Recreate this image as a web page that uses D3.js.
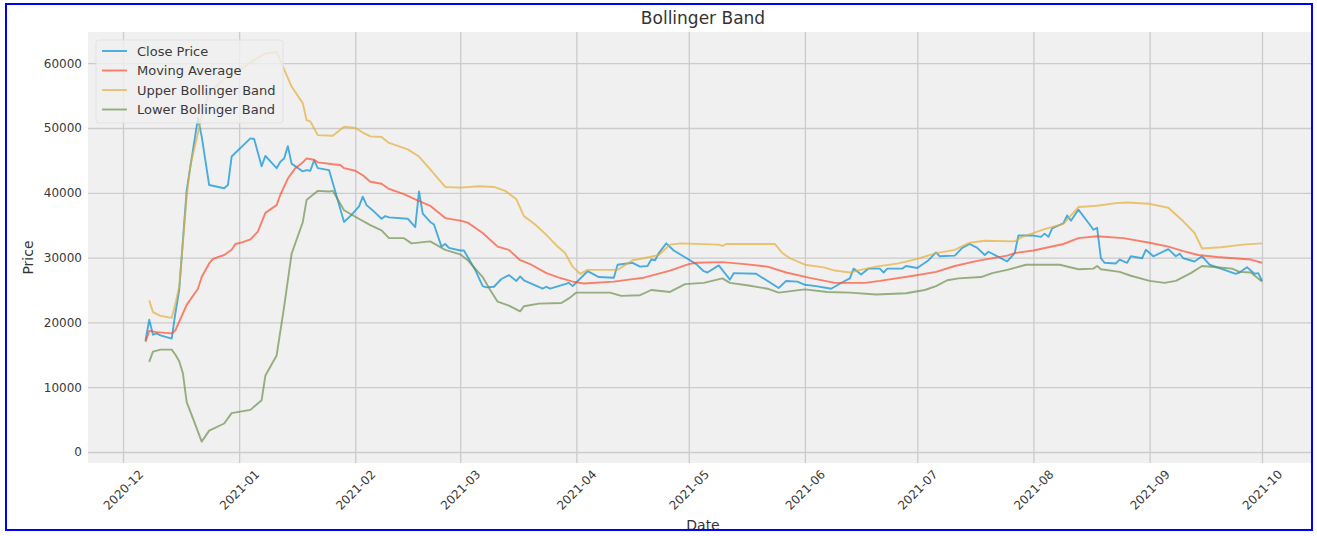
<!DOCTYPE html>
<html>
<head>
<meta charset="utf-8">
<script src="https://cdn.jsdelivr.net/npm/d3@7"></script>
<style>
  html, body { margin: 0; padding: 0; background: #ffffff; }
  svg { display: block; font-family: "DejaVu Sans", sans-serif; }
</style>
</head>
<body>
<svg id="chart" width="1317" height="536"></svg>
<script>
// ---------------- DATA ----------------
const chartTitle = "Bollinger Band";
const xLabel = "Date";
const yLabel = "Price";
const seriesNames = ["Close Price", "Moving Average", "Upper Bollinger Band", "Lower Bollinger Band"];
const seriesColors = ["#008fd5", "#fc4f30", "#e5ae38", "#6d904f"];
const xTickLabels = ["2020-12","2021-01","2021-02","2021-03","2021-04","2021-05","2021-06","2021-07","2021-08","2021-09","2021-10"];
const yTickValues = [0, 10000, 20000, 30000, 40000, 50000, 60000];

const closePrice = [
["2020-12-07",17200],["2020-12-08",20400],["2020-12-09",18100],["2020-12-10",18300],["2020-12-11",18000],
["2020-12-14",17500],["2020-12-15",21500],["2020-12-16",25000],["2020-12-18",40400],["2020-12-21",51500],
["2020-12-22",48700],["2020-12-24",41200],["2020-12-28",40700],["2020-12-29",41200],["2020-12-30",45600],
["2021-01-04",48400],["2021-01-05",48300],["2021-01-07",44100],["2021-01-08",45700],["2021-01-11",43800],
["2021-01-12",44800],["2021-01-13",45300],["2021-01-14",47200],["2021-01-15",44500],["2021-01-18",43300],
["2021-01-19",43500],["2021-01-20",43400],["2021-01-21",45000],["2021-01-22",43800],["2021-01-25",43500],
["2021-01-26",41500],["2021-01-29",35500],["2021-01-31",36600],["2021-02-02",37900],["2021-02-03",39400],
["2021-02-04",38100],["2021-02-06",37100],["2021-02-08",36000],["2021-02-09",36400],["2021-02-10",36200],
["2021-02-15",36000],["2021-02-17",34700],["2021-02-18",40200],["2021-02-19",36800],["2021-02-21",35500],
["2021-02-22",35100],["2021-02-24",31700],["2021-02-25",32100],["2021-02-26",31500],["2021-03-01",31100],
["2021-03-02",31100],["2021-03-05",28100],["2021-03-07",25600],["2021-03-08",25400],["2021-03-10",25500],
["2021-03-12",26700],["2021-03-14",27300],["2021-03-16",26400],["2021-03-17",27100],["2021-03-18",26500],
["2021-03-23",25200],["2021-03-24",25500],["2021-03-25",25200],["2021-03-29",25900],["2021-03-30",26100],
["2021-03-31",25600],["2021-04-04",27900],["2021-04-07",27000],["2021-04-11",26900],["2021-04-12",28900],
["2021-04-16",29200],["2021-04-18",28600],["2021-04-20",28700],["2021-04-21",29700],["2021-04-22",29600],
["2021-04-23",30700],["2021-04-25",32200],["2021-04-27",31100],["2021-04-29",30400],["2021-05-01",29700],
["2021-05-03",29000],["2021-05-05",27900],["2021-05-06",27700],["2021-05-09",28800],["2021-05-12",26600],
["2021-05-13",27600],["2021-05-19",27500],["2021-05-25",25300],["2021-05-27",26400],["2021-05-30",26300],
["2021-06-01",25800],["2021-06-04",25600],["2021-06-08",25200],["2021-06-11",26200],["2021-06-13",26800],
["2021-06-14",28300],["2021-06-16",27400],["2021-06-18",28300],["2021-06-21",28300],["2021-06-22",27700],
["2021-06-23",28300],["2021-06-27",28300],["2021-06-28",28700],["2021-07-01",28400],["2021-07-04",29600],
["2021-07-06",30800],["2021-07-07",30200],["2021-07-11",30300],["2021-07-13",31500],["2021-07-15",32100],
["2021-07-17",31500],["2021-07-19",30400],["2021-07-20",30900],["2021-07-22",30300],["2021-07-25",29400],
["2021-07-27",30700],["2021-07-28",33400],["2021-08-01",33400],["2021-08-03",33200],["2021-08-04",33700],
["2021-08-05",33200],["2021-08-06",34500],["2021-08-09",35300],["2021-08-10",36500],["2021-08-11",35700],
["2021-08-13",37400],["2021-08-16",35100],["2021-08-17",34300],["2021-08-18",34600],["2021-08-19",29900],
["2021-08-20",29200],["2021-08-23",29100],["2021-08-24",29700],["2021-08-26",29200],["2021-08-27",30200],
["2021-08-30",29900],["2021-08-31",31200],["2021-09-02",30200],["2021-09-06",31300],["2021-09-08",30200],
["2021-09-09",30600],["2021-09-10",29900],["2021-09-13",29400],["2021-09-15",30200],["2021-09-17",28900],
["2021-09-20",28300],["2021-09-24",27500],["2021-09-25",27700],["2021-09-27",28500],["2021-09-29",27500],
["2021-09-30",27600],["2021-10-01",26400]
];

const movingAverage = [
["2020-12-07",17000],["2020-12-08",18700],["2020-12-10",18500],["2020-12-14",18300],["2020-12-15",18800],
["2020-12-16",20100],["2020-12-18",22700],["2020-12-21",25200],["2020-12-22",27000],["2020-12-24",29100],
["2020-12-25",29800],["2020-12-28",30400],["2020-12-30",31200],["2020-12-31",32100],["2021-01-02",32400],
["2021-01-04",32800],["2021-01-06",34000],["2021-01-08",36900],["2021-01-11",38100],["2021-01-12",39700],
["2021-01-14",42200],["2021-01-16",43800],["2021-01-18",44700],["2021-01-19",45300],["2021-01-21",45100],
["2021-01-22",44700],["2021-01-26",44400],["2021-01-28",44300],["2021-01-29",43800],["2021-02-01",43400],
["2021-02-03",42700],["2021-02-05",41700],["2021-02-08",41400],["2021-02-10",40600],["2021-02-14",39800],
["2021-02-17",39000],["2021-02-21",38000],["2021-02-25",36100],["2021-03-01",35700],["2021-03-03",35400],
["2021-03-05",34600],["2021-03-07",33800],["2021-03-11",31700],["2021-03-14",31200],["2021-03-17",29600],
["2021-03-20",28900],["2021-03-24",27600],["2021-03-27",27000],["2021-03-31",26300],["2021-04-03",26000],
["2021-04-11",26300],["2021-04-15",26600],["2021-04-19",26900],["2021-04-26",28000],["2021-05-01",29000],
["2021-05-03",29200],["2021-05-10",29300],["2021-05-16",29000],["2021-05-22",28600],["2021-05-27",27700],
["2021-06-02",26900],["2021-06-09",26100],["2021-06-17",26100],["2021-06-21",26400],["2021-06-30",27200],
["2021-07-06",27800],["2021-07-11",28700],["2021-07-17",29500],["2021-07-25",30300],["2021-07-27",30700],
["2021-08-01",31100],["2021-08-09",32100],["2021-08-13",33000],["2021-08-18",33300],["2021-08-25",33000],
["2021-09-01",32300],["2021-09-06",31700],["2021-09-10",31000],["2021-09-14",30400],["2021-09-19",30100],
["2021-09-28",29700],["2021-10-01",29200]
];

const upperBand = [
["2020-12-08",23400],["2020-12-09",21600],["2020-12-11",21000],["2020-12-14",20700],["2020-12-15",22900],
["2020-12-16",25500],["2020-12-18",39400],["2020-12-19",44300],["2020-12-21",49200],["2020-12-22",51800],
["2020-12-24",55500],["2020-12-28",57500],["2020-12-31",58600],["2021-01-02",59300],["2021-01-05",60500],
["2021-01-08",61500],["2021-01-11",61700],["2021-01-12",60400],["2021-01-15",56400],["2021-01-18",53800],
["2021-01-19",51200],["2021-01-20",51000],["2021-01-22",48900],["2021-01-26",48800],["2021-01-29",50200],
["2021-02-01",50000],["2021-02-03",49300],["2021-02-05",48700],["2021-02-08",48600],["2021-02-10",47700],
["2021-02-15",46700],["2021-02-18",45600],["2021-02-21",43600],["2021-02-25",40900],["2021-03-01",40800],
["2021-03-06",41000],["2021-03-10",40900],["2021-03-13",40300],["2021-03-16",39000],["2021-03-18",36400],
["2021-03-21",35100],["2021-03-24",33500],["2021-03-27",31700],["2021-03-29",30700],["2021-03-31",28600],
["2021-04-02",27500],["2021-04-04",28100],["2021-04-12",28100],["2021-04-16",29600],["2021-04-19",29900],
["2021-04-23",30400],["2021-04-26",32000],["2021-04-29",32200],["2021-05-09",32000],["2021-05-10",31800],
["2021-05-11",32100],["2021-05-24",32100],["2021-05-26",30700],["2021-05-28",29900],["2021-06-01",28900],
["2021-06-06",28500],["2021-06-09",28000],["2021-06-13",27700],["2021-06-15",28000],["2021-06-20",28600],
["2021-06-26",29100],["2021-07-01",29800],["2021-07-06",30700],["2021-07-11",31200],["2021-07-15",32300],
["2021-07-19",32600],["2021-07-27",32500],["2021-07-29",33200],["2021-08-04",34400],["2021-08-09",35200],
["2021-08-13",37800],["2021-08-18",38000],["2021-08-23",38400],["2021-08-26",38500],["2021-09-01",38300],
["2021-09-06",37700],["2021-09-10",35600],["2021-09-13",33800],["2021-09-15",31400],["2021-09-20",31600],
["2021-09-26",32000],["2021-10-01",32200]
];

const lowerBand = [
["2020-12-08",13900],["2020-12-09",15500],["2020-12-11",15800],["2020-12-14",15800],["2020-12-15",15000],
["2020-12-16",14000],["2020-12-17",12100],["2020-12-18",7700],["2020-12-20",4700],["2020-12-22",1600],
["2020-12-24",3300],["2020-12-28",4400],["2020-12-30",6000],["2021-01-04",6500],["2021-01-07",8000],
["2021-01-08",11800],["2021-01-11",14900],["2021-01-13",22400],["2021-01-15",30600],["2021-01-18",35500],
["2021-01-19",38900],["2021-01-22",40300],["2021-01-25",40200],["2021-01-26",40300],["2021-01-29",37300],
["2021-02-01",36300],["2021-02-05",35000],["2021-02-08",34200],["2021-02-10",33000],["2021-02-14",33000],
["2021-02-16",32200],["2021-02-21",32500],["2021-02-25",31200],["2021-03-01",30500],["2021-03-03",29600],
["2021-03-07",27000],["2021-03-09",25000],["2021-03-11",23200],["2021-03-14",22600],["2021-03-17",21700],
["2021-03-18",22500],["2021-03-22",22900],["2021-03-28",23000],["2021-03-30",23700],["2021-04-01",24600],
["2021-04-10",24600],["2021-04-13",24100],["2021-04-18",24200],["2021-04-21",25000],["2021-04-26",24700],
["2021-04-30",25900],["2021-05-05",26100],["2021-05-10",26800],["2021-05-12",26100],["2021-05-17",25700],
["2021-05-22",25200],["2021-05-25",24600],["2021-06-01",25100],["2021-06-07",24700],["2021-06-13",24600],
["2021-06-20",24300],["2021-06-28",24500],["2021-07-03",25000],["2021-07-06",25600],["2021-07-09",26500],
["2021-07-12",26800],["2021-07-18",27000],["2021-07-21",27600],["2021-07-25",28100],["2021-07-30",28900],
["2021-08-08",28900],["2021-08-13",28200],["2021-08-17",28300],["2021-08-18",28700],["2021-08-19",28200],
["2021-08-24",27800],["2021-08-27",27200],["2021-09-01",26400],["2021-09-05",26100],["2021-09-08",26400],
["2021-09-12",27600],["2021-09-15",28700],["2021-09-19",28500],["2021-09-23",28300],["2021-09-25",27800],
["2021-09-28",27700],["2021-10-01",26300]
];

// ---------------- DRAW ----------------
const svg = d3.select("#chart");
const parse = d3.timeParse("%Y-%m-%d");
const parseMonth = d3.timeParse("%Y-%m");

const plot = { left: 88, top: 32, right: 1318, bottom: 463 };

const x = d3.scaleTime()
  .domain([parseMonth(xTickLabels[0]), parseMonth(xTickLabels[xTickLabels.length - 1])])
  .range([123, 1262]);
const y = d3.scaleLinear().domain([0, 60000]).range([452, 63.2]);

// clip to the blue frame
const defs = svg.append("defs");
defs.append("clipPath").attr("id", "frameClip")
  .append("rect").attr("x", 6).attr("y", 5).attr("width", 1305).attr("height", 524);
defs.append("clipPath").attr("id", "plotClip")
  .append("rect").attr("x", plot.left).attr("y", plot.top)
  .attr("width", plot.right - plot.left).attr("height", plot.bottom - plot.top);

const root = svg.append("g").attr("clip-path", "url(#frameClip)");

root.append("rect")
  .attr("x", plot.left).attr("y", plot.top)
  .attr("width", plot.right - plot.left).attr("height", plot.bottom - plot.top)
  .attr("fill", "#f0f0f0");

// Y axis + horizontal grid
const yAxis = root.append("g")
  .attr("transform", `translate(${plot.left},0)`)
  .call(d3.axisLeft(y).tickValues(yTickValues).tickFormat(d3.format("d"))
    .tickSize(-(plot.right - plot.left)).tickPadding(6));
yAxis.select(".domain").remove();
yAxis.selectAll(".tick line").attr("stroke", "#cbcbcb").attr("stroke-width", 1.3);
yAxis.selectAll(".tick text").attr("fill", "#3a3a3a")
  .style("font-size", "12px").style("font-family", "DejaVu Sans, sans-serif");

// X axis + vertical grid
const xTickDates = xTickLabels.map(parseMonth);
const xAxis = root.append("g")
  .attr("transform", `translate(0,${plot.bottom})`)
  .call(d3.axisBottom(x).tickValues(xTickDates).tickFormat(d3.timeFormat("%Y-%m"))
    .tickSize(-(plot.bottom - plot.top)).tickPadding(0));
xAxis.select(".domain").remove();
xAxis.selectAll(".tick line").attr("stroke", "#cbcbcb").attr("stroke-width", 1.3);
xAxis.selectAll(".tick text")
  .attr("fill", "#3a3a3a")
  .attr("x", 0).attr("y", 0).attr("dy", null)
  .attr("text-anchor", "middle")
  .attr("dominant-baseline", "central")
  .attr("transform", "translate(0,27) rotate(-45)")
  .style("font-size", "12px").style("font-family", "DejaVu Sans, sans-serif");

// lines
const lineGen = d3.line()
  .x(d => x(parse(d[0])))
  .y(d => y(d[1]));

const allSeries = [closePrice, movingAverage, upperBand, lowerBand];
const lines = root.append("g").attr("clip-path", "url(#plotClip)");
allSeries.forEach((s, i) => {
  lines.append("path")
    .datum(s)
    .attr("d", lineGen)
    .attr("fill", "none")
    .attr("stroke", seriesColors[i])
    .attr("stroke-opacity", 0.7)
    .attr("stroke-width", 1.9)
    .attr("stroke-linejoin", "round")
    .attr("stroke-linecap", "butt");
});

// legend
const legend = root.append("g");
legend.append("rect")
  .attr("x", 96).attr("y", 40).attr("width", 187).attr("height", 83)
  .attr("rx", 3).attr("ry", 3)
  .attr("fill", "#f0f0f0").attr("fill-opacity", 0.8)
  .attr("stroke", "#e2e2e2").attr("stroke-width", 1);
const rowY = [51, 70.5, 90, 109.5];
seriesNames.forEach((name, i) => {
  legend.append("line")
    .attr("x1", 102).attr("x2", 127).attr("y1", rowY[i]).attr("y2", rowY[i])
    .attr("stroke", seriesColors[i]).attr("stroke-opacity", 0.7).attr("stroke-width", 1.9);
  legend.append("text")
    .attr("x", 137).attr("y", rowY[i]).attr("dominant-baseline", "central")
    .attr("fill", "#3a3a3a").style("font-size", "13px")
    .text(name);
});

// title & axis labels
root.append("text")
  .attr("x", (plot.left + plot.right) / 2).attr("y", 24)
  .attr("text-anchor", "middle").attr("fill", "#333")
  .style("font-size", "17px").text(chartTitle);

root.append("text")
  .attr("transform", `translate(33,${(plot.top + plot.bottom) / 2 + 10}) rotate(-90)`)
  .attr("text-anchor", "middle").attr("fill", "#333")
  .style("font-size", "14px").text(yLabel);

root.append("text")
  .attr("x", (plot.left + plot.right) / 2).attr("y", 530)
  .attr("text-anchor", "middle").attr("fill", "#333")
  .style("font-size", "14px").text(xLabel);

// blue frame
svg.append("rect")
  .attr("x", 6).attr("y", 4).attr("width", 1306).attr("height", 526)
  .attr("fill", "none").attr("stroke", "#0000ff").attr("stroke-width", 2);
</script>
</body>
</html>
